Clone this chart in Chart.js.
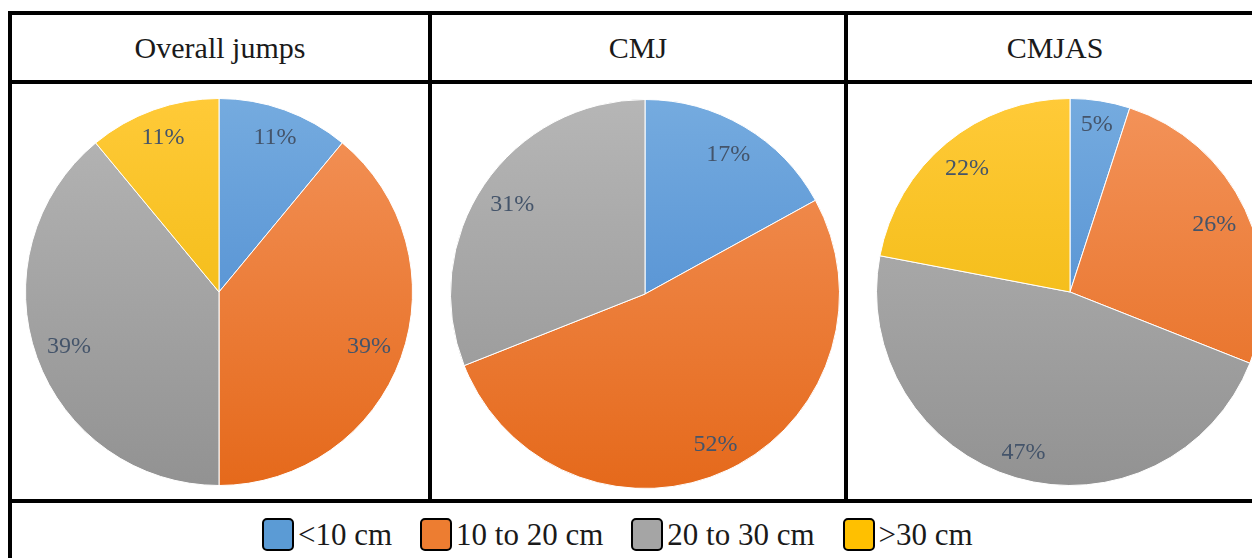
<!DOCTYPE html>
<html>
<head>
<meta charset="utf-8">
<script src="https://cdn.jsdelivr.net/npm/chart.js@4"></script>
<style>
  html, body { margin: 0; padding: 0; background: #fff; }
  body { width: 1252px; height: 558px; overflow: hidden; position: relative; font-family: "Liberation Serif", "Times New Roman", serif; }
  .rule { position: absolute; background: #000; }
  .head { position: absolute; top: 15px; height: 65px; display: flex; align-items: center; justify-content: center; font-size: 30px; color: #1a1a1a; }
  canvas { position: absolute; }
  #legend { position: absolute; left: 262px; top: 518px; display: flex; align-items: center; font-size: 31px; color: #1a1a1a; }
  .swatch { width: 28px; height: 29px; border: 2px solid #000; border-radius: 5px; margin-right: 4px; }
  .item { display: flex; align-items: center; margin-right: 28px; line-height: 33px; }
</style>
</head>
<body>
<!-- table frame -->
<div class="rule" style="left:8px; top:11px; width:1244px; height:4px"></div>
<div class="rule" style="left:8px; top:80px; width:1244px; height:4px"></div>
<div class="rule" style="left:8px; top:499px; width:1244px; height:4px"></div>
<div class="rule" style="left:8px; top:11px; width:4px; height:547px"></div>
<div class="rule" style="left:428px; top:11px; width:4px; height:492px"></div>
<div class="rule" style="left:844px; top:11px; width:4px; height:492px"></div>

<div class="head" id="t0" style="left:12px; width:416px"></div>
<div class="head" id="t1" style="left:432px; width:412px"></div>
<div class="head" id="t2" style="left:848px; width:414px"></div>

<canvas id="pie0" width="388" height="388" style="left:25px; top:98px"></canvas>
<canvas id="pie1" width="390" height="390" style="left:450px; top:99px"></canvas>
<canvas id="pie2" width="388" height="388" style="left:876px; top:98px"></canvas>

<div id="legend"></div>

<script>
// jump height bands and share of jumps (%) per group
const bands = ['<10 cm', '10 to 20 cm', '20 to 30 cm', '>30 cm'];
const groups = ['Overall jumps', 'CMJ', 'CMJAS'];
const overall = [11, 39, 39, 11];
const cmj = [17, 52, 31, 0];
const cmjas = [5, 26, 47, 22];

// slice colours: flat for the legend, light/dark stops for the pie gradient
const flatColors = ['#5B9BD5', '#ED7D31', '#A5A5A5', '#FFC000'];
const topColors = ['#75ABDF', '#F3935A', '#B6B6B6', '#FFCA38'];
const bottomColors = ['#4182CC', '#E5691B', '#929292', '#EBB300'];

const labelFont = '24px "Liberation Serif", "Times New Roman", serif';

function sliceFill(ctx) {
  const chart = ctx.chart;
  const area = chart.chartArea;
  const i = ctx.dataIndex;
  if (!area) return flatColors[i];
  const g = chart.ctx.createLinearGradient(0, area.top, 0, area.bottom);
  g.addColorStop(0, topColors[i]);
  g.addColorStop(1, bottomColors[i]);
  return g;
}

// percentage labels pushed out as far as the text box still fits inside the slice edge
const pctLabels = {
  id: 'pctLabels',
  afterDatasetsDraw(chart) {
    const ctx = chart.ctx;
    const data = chart.data.datasets[0].data;
    ctx.save();
    ctx.font = labelFont;
    ctx.fillStyle = '#44546A';
    ctx.textAlign = 'center';
    ctx.textBaseline = 'middle';
    chart.getDatasetMeta(0).data.forEach((arc, i) => {
      if (!data[i]) return;
      const p = arc.getProps(['x', 'y', 'startAngle', 'endAngle', 'outerRadius'], true);
      const mid = (p.startAngle + p.endAngle) / 2;
      const dx = Math.cos(mid), dy = Math.sin(mid);
      const text = data[i] + '%';
      const hw = ctx.measureText(text).width / 2;
      const hh = 11;
      const limit = p.outerRadius - 9;
      let d = limit;
      while (d > 0) {
        const cx = Math.abs(d * dx) + hw, cy = Math.abs(d * dy) + hh;
        if (Math.hypot(cx, cy) <= limit) break;
        d -= 1;
      }
      ctx.fillText(text, p.x + d * dx, p.y + d * dy + 1);
    });
    ctx.restore();
  }
};

function drawPie(id, values) {
  new Chart(document.getElementById(id), {
    type: 'pie',
    data: {
      labels: bands,
      datasets: [{
        data: values,
        backgroundColor: sliceFill,
        borderColor: '#ffffff',
        borderWidth: 1
      }]
    },
    options: {
      responsive: false,
      animation: false,
      layout: { padding: 0 },
      plugins: {
        legend: { display: false },
        tooltip: { enabled: false }
      }
    },
    plugins: [pctLabels]
  });
}

groups.forEach((name, i) => {
  document.getElementById('t' + i).textContent = name;
});

drawPie('pie0', overall);
drawPie('pie1', cmj);
drawPie('pie2', cmjas);

// shared legend below the three pies
const legend = document.getElementById('legend');
bands.forEach((band, i) => {
  const item = document.createElement('div');
  item.className = 'item';
  const sw = document.createElement('div');
  sw.className = 'swatch';
  sw.style.background = flatColors[i];
  const label = document.createElement('span');
  label.textContent = band;
  item.appendChild(sw);
  item.appendChild(label);
  legend.appendChild(item);
});
</script>
</body>
</html>
